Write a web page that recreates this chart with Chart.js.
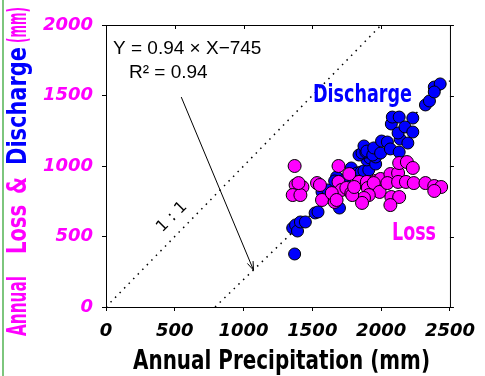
<!DOCTYPE html>
<html><head><meta charset="utf-8">
<script src="https://cdn.jsdelivr.net/npm/chart.js@4.4.1/dist/chart.umd.min.js"></script>
<style>html,body{margin:0;padding:0;background:#fff}#wrap{width:485px;height:376px}</style>
</head><body><div id="wrap"><canvas id="c" width="485" height="376"></canvas></div>
<script>
const xTicks = [0, 500, 1000, 1500, 2000, 2500];
const yTicks = [0, 500, 1000, 1500, 2000];
const dischargeX = [1371,1357,1378,1392,1413,1449,1520,1541,1570,1612,1676,1697,1662,1733,1783,1825,1854,1875,1910,1896,1918,1960,1960,1839,1861,1889,1875,1896,1939,1946,1996,2003,2045,2067,2131,2138,2194,2074,2081,2131,2123,2173,2230,2230,2322,2351,2386,2429,2386];
const dischargeY = [376,560,582,539,603,603,667,674,816,830,922,702,894,901,986,950,957,965,972,1043,1057,1014,1064,1078,1092,1099,1142,1106,1078,1128,1092,1177,1170,1121,1099,1191,1163,1298,1347,1347,1234,1277,1241,1340,1433,1461,1560,1582,1525];
const lossX = [1371,1378,1428,1357,1413,1399,1534,1555,1570,1662,1690,1768,1690,1712,1747,1783,1641,1839,1896,1903,1960,1996,1946,1989,1910,1875,1861,1790,2067,2123,2131,2187,2230,2045,2123,2180,2237,2322,2386,2436,2386,2074,2131,2067,1676,1804];
const lossY = [1000,865,851,794,794,879,879,865,759,745,1000,943,887,830,844,808,808,887,887,844,894,908,879,816,794,773,738,794,943,950,1021,1028,986,879,887,887,879,879,858,851,823,780,780,723,759,851];
const oneToOneX = [0, 2000];
const oneToOneY = [0, 2000];
const regSlope = 0.94, regIntercept = -745;
const regX = [-regIntercept / regSlope, 2500];
const regY = regX.map(v => regSlope * v + regIntercept);
const arrowFrom = [547, 1489];
const arrowTo = [1072, 262];
const eqText = "Y = 0.94 \u00d7 X\u2212745";
const r2Text = "R\u00b2 = 0.94";

const zip = (xs, ys) => xs.map((x, i) => ({x, y: ys[i]}));
const POP = "'DejaVu Sans',sans-serif";

function fitText(ctx, text, x, y, width) {
  const w = ctx.measureText(text).width;
  ctx.save(); ctx.translate(x, y); ctx.scale(width / w, 1);
  ctx.fillText(text, 0, 0); ctx.restore();
}

const deco = {
  id: 'deco',
  beforeDatasetsDraw(chart) {
    const {ctx, chartArea: a} = chart;
    ctx.save();
    ctx.strokeStyle = '#000'; ctx.lineWidth = 1;
    ctx.strokeRect(a.left + 0.5, a.top + 0.5, a.right - a.left, a.bottom - a.top);
    const xs = chart.scales.x, ys = chart.scales.y;
    ctx.beginPath();
    xTicks.forEach(v => { const p = Math.round(xs.getPixelForValue(v)) + 0.5; ctx.moveTo(p, a.top); ctx.lineTo(p, a.top + 4); });
    yTicks.forEach(v => { const p = Math.round(ys.getPixelForValue(v)) + 0.5; ctx.moveTo(a.right, p); ctx.lineTo(a.right + 4, p); });
    ctx.stroke();
    ctx.restore();
  },
  afterDraw(chart) {
    const {ctx, chartArea: a} = chart;
    const xs = chart.scales.x, ys = chart.scales.y;
    ctx.save();
    ctx.strokeStyle = '#7dc67d'; ctx.lineWidth = 2;
    ctx.beginPath(); ctx.moveTo(3, 0); ctx.lineTo(3, 376); ctx.stroke();
    ctx.fillStyle = '#000';
    ctx.font = "19px 'Liberation Sans', Arial, sans-serif";
    ctx.textBaseline = 'alphabetic'; ctx.textAlign = 'left';
    ctx.fillText(eqText, 113, 54);
    ctx.fillText(r2Text, 129, 78);
    const x0 = xs.getPixelForValue(arrowFrom[0]), y0 = ys.getPixelForValue(arrowFrom[1]);
    const x1 = xs.getPixelForValue(arrowTo[0]), y1 = ys.getPixelForValue(arrowTo[1]);
    ctx.strokeStyle = '#000'; ctx.lineWidth = 1;
    ctx.beginPath(); ctx.moveTo(x0, y0); ctx.lineTo(x1, y1); ctx.stroke();
    const ang = Math.atan2(y1 - y0, x1 - x0);
    ctx.beginPath();
    ctx.moveTo(x1 - 9 * Math.cos(ang - 0.35), y1 - 9 * Math.sin(ang - 0.35));
    ctx.lineTo(x1, y1);
    ctx.lineTo(x1 - 9 * Math.cos(ang + 0.35), y1 - 9 * Math.sin(ang + 0.35));
    ctx.stroke();
    ctx.save();
    ctx.translate(172, 217); ctx.rotate(-Math.PI / 4);
    ctx.font = "16px 'DejaVu Sans', sans-serif";
    ctx.textAlign = 'center'; ctx.textBaseline = 'middle';
    ctx.fillText('1 : 1', 0, 0);
    ctx.restore();
    ctx.font = "bold 25px " + POP;
    ctx.textAlign = 'left'; ctx.textBaseline = 'middle';
    ctx.fillStyle = '#0000ff';
    fitText(ctx, 'Discharge', 313, 95, 99);
    ctx.fillStyle = '#ff00ff';
    fitText(ctx, 'Loss', 392, 233, 44);
    ctx.fillStyle = '#000';
    ctx.font = "bold 26px " + POP;
    ctx.textAlign = 'left'; ctx.textBaseline = 'middle';
    fitText(ctx, 'Annual Precipitation (mm)', 133, 362, 297);
    // y title words fitted into their spans along the axis
    const words = [['Annual', '#ff00ff', 336, 276], ['Loss', '#ff00ff', 254, 205], ['&', '#ff00ff', 194, 177], ['Discharge', '#0000ff', 165, 47], ['(mm)', '#ff00ff', 43, 7]];
    ctx.font = "bold 26px " + POP;
    ctx.textAlign = 'left'; ctx.textBaseline = 'middle';
    words.forEach(w => {
      ctx.save();
      ctx.translate(19, w[2]); ctx.rotate(-Math.PI / 2);
      ctx.fillStyle = w[1];
      fitText(ctx, w[0], 0, 0, w[2] - w[3]);
      ctx.restore();
    });
    ctx.restore();
  }
};

new Chart(document.getElementById('c'), {
  type: 'scatter',
  data: {
    datasets: [
      {label: 'Loss', data: zip(lossX, lossY), backgroundColor: '#ff00ff', borderColor: '#000', borderWidth: 1, pointRadius: 6.5, pointHoverRadius: 6.5},
      {label: 'Discharge', data: zip(dischargeX, dischargeY), backgroundColor: '#0000ff', borderColor: '#000', borderWidth: 1, pointRadius: 6, pointHoverRadius: 6},
      {label: '1:1', data: zip(oneToOneX, oneToOneY), showLine: true, borderColor: '#000', borderWidth: 1.5, borderDash: [1.5, 5], pointRadius: 0, order: 5},
      {label: 'reg', data: zip(regX, regY), showLine: true, borderColor: '#000', borderWidth: 1.5, borderDash: [1.5, 5], pointRadius: 0, order: 5}
    ]
  },
  options: {
    responsive: false, animation: false, devicePixelRatio: 1,
    layout: {padding: {left: 0, top: 25, right: 26, bottom: 0}},
    plugins: {legend: {display: false}, tooltip: {enabled: false}},
    scales: {
      x: {
        type: 'linear', min: 0, max: 2500,
        afterBuildTicks: s => { s.ticks = xTicks.map(v => ({value: v})); },
        afterFit: s => { s.height = 69; },
        grid: {display: true, drawOnChartArea: false, drawTicks: true, tickLength: 4, color: '#000'},
        border: {display: true, color: '#000'},
        ticks: {color: '#000', padding: 10, maxRotation: 0, callback: v => String(v), font: {family: POP, size: 18, weight: 'bold', style: 'italic'}}
      },
      y: {
        type: 'linear', min: 0, max: 2000,
        afterBuildTicks: s => { s.ticks = yTicks.map(v => ({value: v})); },
        afterFit: s => { s.width = 106; },
        grid: {display: true, drawOnChartArea: false, drawTicks: true, tickLength: 4, color: '#000'},
        border: {display: true, color: '#000'},
        ticks: {color: '#ff00ff', padding: 9, callback: v => String(v), font: {family: POP, size: 18, weight: 'bold', style: 'italic'}}
      }
    }
  },
  plugins: [deco]
});
</script></body></html>
